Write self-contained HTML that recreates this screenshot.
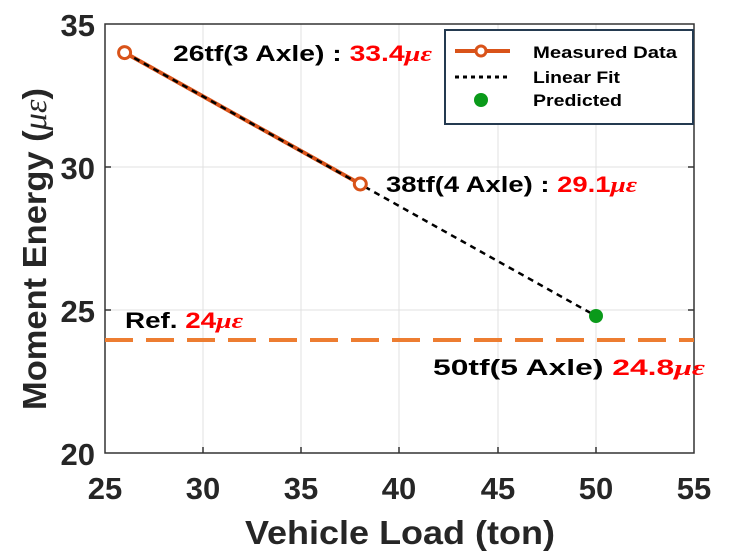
<!DOCTYPE html>
<html><head><style>
body{margin:0;background:#fff;}
svg{display:block;font-family:"Liberation Sans",Arial,sans-serif;}
</style></head><body>
<svg width="736" height="560" viewBox="0 0 736 560">
<g stroke="#e0e0e0" stroke-width="1">
<line x1="203" y1="24" x2="203" y2="453"/><line x1="301" y1="24" x2="301" y2="453"/>
<line x1="399" y1="24" x2="399" y2="453"/><line x1="498" y1="24" x2="498" y2="453"/>
<line x1="596" y1="24" x2="596" y2="453"/>
<line x1="105" y1="167" x2="694" y2="167"/><line x1="105" y1="310" x2="694" y2="310"/>
</g>
<rect x="105" y="24" width="589" height="429" fill="none" stroke="#333" stroke-width="1.5"/>
<g stroke="#333" stroke-width="1.5">
<line x1="203" y1="453" x2="203" y2="447"/><line x1="301" y1="453" x2="301" y2="447"/><line x1="399" y1="453" x2="399" y2="447"/><line x1="498" y1="453" x2="498" y2="447"/><line x1="596" y1="453" x2="596" y2="447"/>
<line x1="105" y1="167" x2="111" y2="167"/><line x1="105" y1="310" x2="111" y2="310"/>
<line x1="694" y1="167" x2="688" y2="167"/><line x1="694" y1="310" x2="688" y2="310"/>
</g>
<g font-size="31" font-weight="bold" fill="#262626" text-anchor="middle">
<text x="105" y="499">25</text><text x="203" y="499">30</text><text x="301" y="499">35</text><text x="399" y="499">40</text><text x="498" y="499">45</text><text x="596" y="499">50</text><text x="694" y="499">55</text>
</g>
<g font-size="31" font-weight="bold" fill="#262626" text-anchor="end">
<text x="95" y="36">35</text><text x="95" y="179">30</text><text x="95" y="322">25</text><text x="95" y="465">20</text>
</g>
<text x="245" y="544" font-size="33" font-weight="bold" fill="#262626" textLength="310" lengthAdjust="spacingAndGlyphs">Vehicle Load (ton)</text>
<text transform="translate(46,410) rotate(-90)" font-size="33" font-weight="bold" fill="#262626" textLength="322" lengthAdjust="spacingAndGlyphs">Moment Energy (<tspan font-family="Liberation Serif" font-style="italic" font-weight="normal">με</tspan>)</text>
<line x1="105" y1="340" x2="694" y2="340" stroke="#ED7D31" stroke-width="4" stroke-dasharray="28,13"/>
<line x1="124.6" y1="52.6" x2="360.3" y2="184" stroke="#D95319" stroke-width="4"/>
<line x1="124.6" y1="52.6" x2="596" y2="316" stroke="#000" stroke-width="2.5" stroke-dasharray="6,5"/>
<circle cx="124.6" cy="52.6" r="6" fill="#fff" stroke="#D95319" stroke-width="3"/>
<circle cx="360.3" cy="184" r="6" fill="#fff" stroke="#D95319" stroke-width="3"/>
<circle cx="596" cy="316" r="7" fill="#0a9a1a"/>
<g font-size="22" font-weight="bold">
<text x="173" y="61" fill="#000" textLength="259" lengthAdjust="spacingAndGlyphs">26tf(3 Axle) : <tspan fill="#f00">33.4<tspan font-family="Liberation Serif" font-style="italic">με</tspan></tspan></text>
<text x="386" y="192" fill="#000" textLength="251" lengthAdjust="spacingAndGlyphs">38tf(4 Axle) : <tspan fill="#f00">29.1<tspan font-family="Liberation Serif" font-style="italic">με</tspan></tspan></text>
<text x="125" y="328" fill="#000" textLength="118" lengthAdjust="spacingAndGlyphs">Ref. <tspan fill="#f00">24<tspan font-family="Liberation Serif" font-style="italic">με</tspan></tspan></text>
<text x="433" y="375" fill="#000" textLength="272" lengthAdjust="spacingAndGlyphs">50tf(5 Axle) <tspan fill="#f00">24.8<tspan font-family="Liberation Serif" font-style="italic">με</tspan></tspan></text>
</g>
<rect x="445" y="30" width="248" height="94" fill="#fff" stroke="#243a50" stroke-width="2"/>
<line x1="455" y1="51" x2="510" y2="51" stroke="#D95319" stroke-width="4"/>
<circle cx="481" cy="51" r="5" fill="#fff" stroke="#D95319" stroke-width="3"/>
<line x1="455" y1="77" x2="510" y2="77" stroke="#000" stroke-width="3" stroke-dasharray="4,4"/>
<circle cx="481" cy="100" r="7" fill="#0a9a1a"/>
<g font-size="17" font-weight="bold" fill="#000">
<text x="533" y="58" textLength="144" lengthAdjust="spacingAndGlyphs">Measured Data</text><text x="533" y="83" textLength="87" lengthAdjust="spacingAndGlyphs">Linear Fit</text><text x="533" y="106" textLength="89" lengthAdjust="spacingAndGlyphs">Predicted</text>
</g>
</svg>
</body></html>
